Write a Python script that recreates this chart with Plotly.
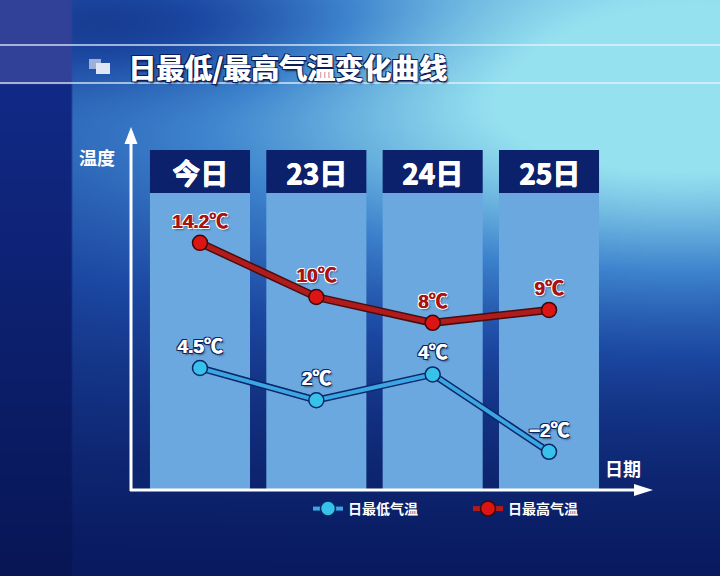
import base64
import struct
import zlib

import numpy as np
import plotly.graph_objects as go

# chart data
days = ["今日", "23日", "24日", "25日"]
low_temps = [4.5, 2, 4, -2]
high_temps = [14.2, 10, 8, 9]
low_name = "日最低气温"
high_name = "日最高气温"
title_text = "日最低/最高气温变化曲线"

W, H = 720, 576
FONT = "Noto Sans CJK SC"
NUM_FONT = "Liberation Sans, Noto Sans CJK SC"


def px(x):
    return x / W


def py(y):
    return 1 - y / H


def temp_label(v):
    return f"{v:g}℃".replace("-", "−")


def png_data_uri(arr):
    """Encode an RGB uint8 array as a base64 PNG data URI."""
    h, w, _ = arr.shape
    raw = b"".join(b"\x00" + arr[r].tobytes() for r in range(h))

    def chunk(tag, data):
        c = struct.pack(">I", len(data)) + tag + data
        return c + struct.pack(">I", zlib.crc32(tag + data) & 0xFFFFFFFF)

    png = b"\x89PNG\r\n\x1a\n"
    png += chunk(b"IHDR", struct.pack(">IIBBBBB", w, h, 8, 2, 0, 0, 0))
    png += chunk(b"IDAT", zlib.compress(raw, 9))
    png += chunk(b"IEND", b"")
    return "data:image/png;base64," + base64.b64encode(png).decode()


def make_background(w=360, h=288):
    """Blue studio backdrop: dark navy with a cyan glow at the upper right."""
    xs = (np.arange(w) + 0.5) * W / w
    ys = (np.arange(h) + 0.5) * H / h
    X, Y = np.meshgrid(xs, ys)
    glow = np.exp(-((X - 680) / 450) ** 2 - ((Y - 120) / 180) ** 2)
    dark = np.exp(-((X - 150) / 260) ** 2 - ((Y - 20) / 70) ** 2)
    b = 0.55 * (1 - Y / H) ** 1.2 + 0.7 * glow - 0.4 * dark
    b = np.clip(b, 0, 1)
    stops = [0, 0.3, 0.6, 1]
    cols = [(9, 26, 96), (28, 72, 162), (62, 132, 206), (150, 225, 240)]
    img = np.zeros((h, w, 3))
    for c in range(3):
        img[..., c] = np.interp(b, stops, [col[c] for col in cols])
    # left strip panel: light at the title rows, dark navy below
    t = np.clip((Y - 84) / (H - 84), 0, 1)
    strip = X < 72
    top_part = Y < 84
    for c, (head, hi, lo) in enumerate(zip((50, 65, 152), (18, 42, 135), (8, 22, 85))):
        val = np.where(top_part, head, hi + (lo - hi) * t)
        img[..., c] = np.where(strip, val, img[..., c])
    return np.clip(img, 0, 255).astype(np.uint8)


# axis mapping (category index / temperature) -> pixels
x_range = [-0.593, 3.868]
y_range = [-4.96, 22.95]
header_bottom = 18.06
header_top = 21.4
half_col = 0.43

fig = go.Figure()

# shadow lines
fig.add_trace(go.Scatter(x=days, y=low_temps, mode="lines",
                         line=dict(color="#0b2764", width=7),
                         hoverinfo="skip", showlegend=False))
fig.add_trace(go.Scatter(x=days, y=high_temps, mode="lines",
                         line=dict(color="#4a0d0d", width=8),
                         hoverinfo="skip", showlegend=False))

navy_outline = ("0.6px 0 0 #fff, -1px -1px 0 #0a2466, 1px -1px 0 #0a2466, -1px 1px 0 #0a2466, "
                "1px 1px 0 #0a2466, 2px 2px 2px rgba(0,0,0,0.5)")
white_outline = ("0.6px 0 0 #a81212, -1px -1px 0 #fff, 1px -1px 0 #fff, -1px 1px 0 #fff, "
                 "1px 1px 0 #fff, 2px 2px 2px rgba(0,0,0,0.4)")

fig.add_trace(go.Scatter(
    x=days, y=low_temps, name=low_name,
    mode="lines+markers+text",
    line=dict(color="#3aa6e6", width=4),
    marker=dict(size=15, color="#36c2ea", line=dict(color="#0b2764", width=1.5)),
    text=[temp_label(v) for v in low_temps],
    textposition="top center",
    textfont=dict(family=NUM_FONT, size=19, color="white", weight="bold", shadow=navy_outline),
    hoverinfo="skip",
))
fig.add_trace(go.Scatter(
    x=days, y=high_temps, name=high_name,
    mode="lines+markers+text",
    line=dict(color="#b01c1c", width=5),
    marker=dict(size=15, color="#dc1414", line=dict(color="#3a0a0a", width=1.5)),
    text=[temp_label(v) for v in high_temps],
    textposition="top center",
    textfont=dict(family=NUM_FONT, size=19, color="#a81212", weight="bold", shadow=white_outline),
    hoverinfo="skip",
))

shapes = []
# day columns and their header boxes
for i, _ in enumerate(days):
    shapes.append(dict(type="rect", xref="x", yref="y", layer="below",
                       x0=i - half_col, x1=i + half_col, y0=y_range[0], y1=header_bottom,
                       fillcolor="#6ca8e0", line=dict(width=0)))
    shapes.append(dict(type="rect", xref="x", yref="y", layer="below",
                       x0=i - half_col, x1=i + half_col, y0=header_bottom, y1=header_top,
                       fillcolor="#0c216c", line=dict(width=0)))

# title band lines
for yl in (45, 83):
    shapes.append(dict(type="line", xref="paper", yref="paper",
                       x0=0, x1=1, y0=py(yl), y1=py(yl),
                       line=dict(color="rgba(235,245,255,0.85)", width=1.5)))

# title icon
shapes.append(dict(type="rect", xref="paper", yref="paper",
                   x0=px(89), x1=px(101), y0=py(59), y1=py(69),
                   fillcolor="#9fb0d8", line=dict(width=0)))
shapes.append(dict(type="rect", xref="paper", yref="paper",
                   x0=px(96), x1=px(110), y0=py(63), y1=py(74),
                   fillcolor="#dfe6f4", line=dict(width=0)))

# axes with arrow heads
shapes.append(dict(type="line", xref="paper", yref="paper",
                   x0=px(131), x1=px(131), y0=py(491), y1=py(140),
                   line=dict(color="white", width=3)))
shapes.append(dict(type="path", xref="paper", yref="paper",
                   path=f"M {px(131)} {py(127)} L {px(124.5)} {py(144)} L {px(137.5)} {py(144)} Z",
                   fillcolor="white", line=dict(width=0)))
shapes.append(dict(type="line", xref="paper", yref="paper",
                   x0=px(130), x1=px(638), y0=py(490), y1=py(490),
                   line=dict(color="white", width=3)))
shapes.append(dict(type="path", xref="paper", yref="paper",
                   path=f"M {px(653)} {py(490)} L {px(634)} {py(484)} L {px(634)} {py(496)} Z",
                   fillcolor="white", line=dict(width=0)))

heavy_white = "0.8px 0 0 #fff, 0 0.5px 0 #fff"
annotations = []
for i, d in enumerate(days):
    annotations.append(dict(x=i, y=(header_bottom + header_top) / 2, xref="x", yref="y",
                            text=d, showarrow=False,
                            font=dict(family=FONT, size=28, color="white", weight="bold",
                                      shadow=heavy_white)))

title_shadow = ("0.8px 0 0 #fff, -1px -1px 0 #0a1c5c, 1.5px -1px 0 #0a1c5c, -1px 1px 0 #0a1c5c, "
                "1.5px 1px 0 #0a1c5c, 2px 2px 2px rgba(0,0,20,0.7)")
annotations.append(dict(x=px(126), y=py(67), xref="paper", yref="paper",
                        xanchor="left", yanchor="middle", text=title_text, showarrow=False,
                        font=dict(family=FONT, size=28, color="white", weight="bold",
                                  shadow=title_shadow)))
annotations.append(dict(x=px(97), y=py(157), xref="paper", yref="paper",
                        xanchor="center", yanchor="middle",
                        text="温度", showarrow=False,
                        font=dict(family=FONT, size=18, color="white", weight="bold")))
annotations.append(dict(x=px(623), y=py(468), xref="paper", yref="paper",
                        xanchor="center", yanchor="middle",
                        text="日期", showarrow=False,
                        font=dict(family=FONT, size=18, color="white", weight="bold")))

fig.update_layout(
    width=W, height=H,
    margin=dict(l=0, r=0, t=0, b=0),
    paper_bgcolor="#0a1e64",
    plot_bgcolor="rgba(0,0,0,0)",
    images=[dict(source=png_data_uri(make_background()), xref="paper", yref="paper",
                 x=0, y=1, sizex=1, sizey=1, xanchor="left", yanchor="top",
                 sizing="stretch", layer="below")],
    xaxis=dict(domain=[px(131), px(650)], range=x_range, type="category",
               showgrid=False, zeroline=False, showline=False,
               showticklabels=False, ticks=""),
    yaxis=dict(domain=[py(490), py(130)], range=y_range,
               showgrid=False, zeroline=False, showline=False,
               showticklabels=False, ticks=""),
    shapes=shapes,
    annotations=annotations,
    showlegend=True,
    legend=dict(orientation="h", x=px(308), y=py(493), xanchor="left", yanchor="top",
                bgcolor="rgba(0,0,0,0)", entrywidth=115,
                font=dict(family=FONT, size=14, color="white", weight="bold")),
)

fig.write_html("out.html", config={"displayModeBar": False},
               post_script="document.body.style.margin = '0';")
